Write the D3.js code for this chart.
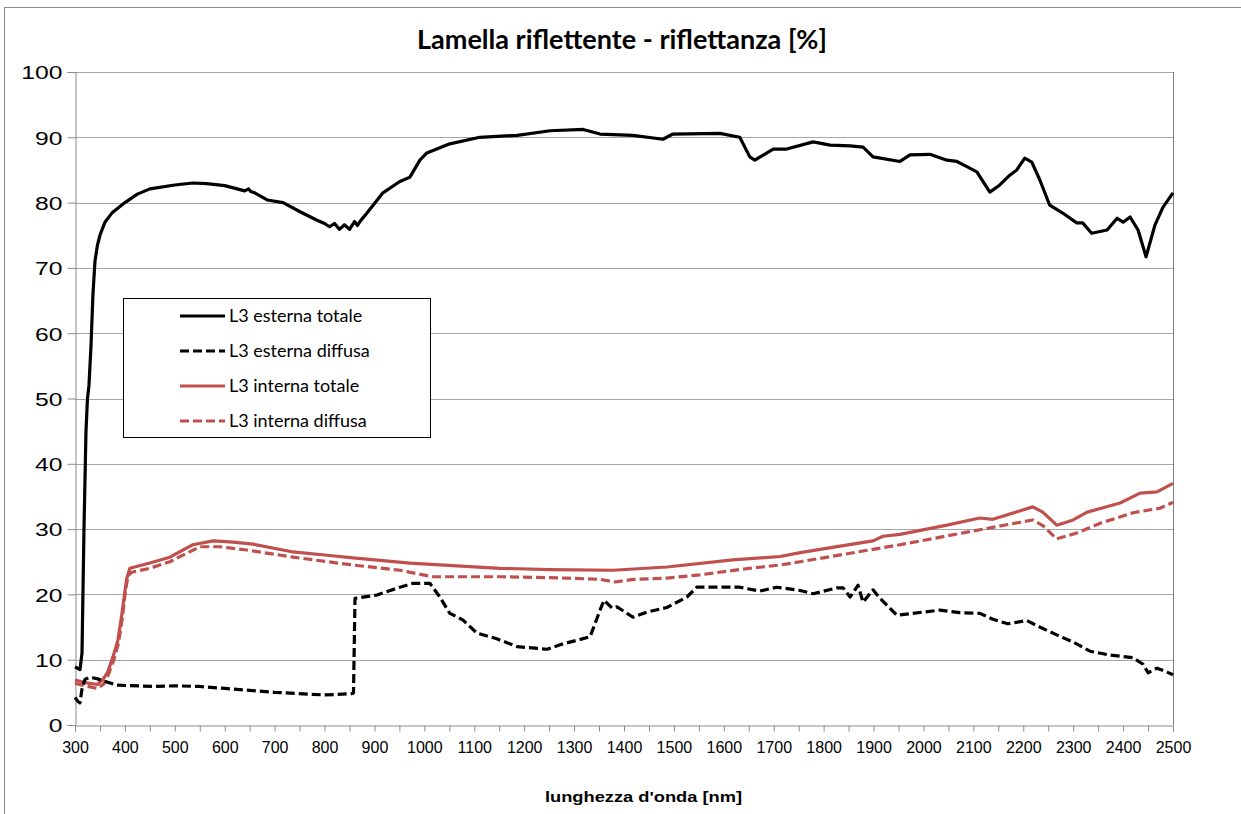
<!DOCTYPE html>
<html>
<head>
<meta charset="utf-8">
<script src="https://cdn.jsdelivr.net/npm/d3@7"></script>
<style>
  body { margin: 0; background: #fff; }
  svg { display: block; }
</style>
</head>
<body>
<div id="chart"></div>
<script>
// wavelengths [nm] and reflectance [%]
var estTotNm = [300,310,314,318,322,325,328,332,336,340,345,350,360,375,400,425,450,500,536,564,600,640,648,652,660,685,717,751,785,800,810,820,830,840,850,860,866,872,885,917,950,971,991,1005,1051,1111,1186,1252,1318,1352,1418,1478,1498,1592,1632,1652,1662,1699,1726,1779,1813,1853,1879,1899,1953,1973,2013,2047,2067,2087,2107,2133,2153,2173,2187,2203,2217,2233,2253,2279,2307,2319,2337,2368,2388,2400,2414,2430,2446,2464,2480,2500];
var estTotVal = [8.9,8.5,11,30,45,50,52,58,66,71,73.5,75,77,78.5,80,81.3,82.1,82.7,83.0,82.9,82.6,81.8,82.1,81.7,81.5,80.4,80.0,78.6,77.3,76.8,76.3,76.8,75.9,76.6,75.9,77.1,76.5,77.2,78.4,81.5,83.2,83.9,86.5,87.6,89.0,90.0,90.3,91.0,91.2,90.5,90.3,89.7,90.5,90.6,90.0,87.0,86.5,88.2,88.2,89.3,88.8,88.7,88.5,87.0,86.3,87.3,87.4,86.5,86.3,85.5,84.7,81.6,82.7,84.2,85.0,86.8,86.2,83.5,79.6,78.4,76.9,76.9,75.3,75.8,77.6,77.0,77.8,75.8,71.7,76.6,79.3,81.5];

var estDifNm = [300,306,310,314,320,330,344,364,384,456,500,550,600,700,800,855,858,861,905,951,977,1011,1031,1051,1077,1105,1145,1186,1246,1272,1332,1352,1360,1376,1386,1418,1446,1486,1526,1546,1632,1672,1706,1753,1779,1827,1839,1853,1869,1879,1899,1913,1947,1979,2033,2073,2113,2139,2169,2207,2233,2267,2300,2334,2374,2420,2440,2450,2468,2488,2500];
var estDifVal = [4.2,3.6,3.4,5.5,7.0,7.3,7.1,6.6,6.1,5.9,6.0,5.9,5.6,5.0,4.6,4.8,4.9,19.4,19.9,21.1,21.7,21.7,19.6,17.1,16.1,14.1,13.2,12.0,11.6,12.3,13.5,17.6,19.1,17.9,18.1,16.5,17.3,18.0,19.6,21.1,21.1,20.5,21.1,20.6,20.1,21.0,21.0,19.6,21.4,18.8,20.7,19.4,16.8,17.1,17.6,17.2,17.1,16.2,15.5,16.0,15.0,13.8,12.7,11.3,10.7,10.3,9.3,8.0,8.7,8.1,7.7];

var intTotNm = [300,320,345,356,365,376,386,394,400,404,410,425,450,490,536,577,617,657,737,805,857,971,1152,1252,1378,1486,1618,1713,1753,1833,1899,1919,1953,2047,2113,2139,2219,2239,2267,2300,2328,2394,2434,2468,2500];
var intTotVal = [6.9,6.5,6.2,7.0,8.0,10.4,13.0,17.0,20.5,22.5,24.0,24.3,24.8,25.7,27.6,28.2,28.0,27.7,26.5,26.0,25.6,24.8,24.0,23.8,23.7,24.2,25.3,25.8,26.4,27.4,28.2,28.9,29.2,30.6,31.7,31.5,33.4,32.6,30.6,31.4,32.6,34.0,35.5,35.7,37.0];

var intDifNm = [300,320,345,358,366,377,387,395,401,406,414,450,490,550,590,644,737,857,951,1017,1152,1286,1352,1382,1418,1486,1552,1652,1713,1753,1899,1953,2113,2219,2240,2267,2307,2354,2420,2474,2500];
var intDifVal = [6.4,6.0,5.6,6.3,7.5,9.8,12.5,16.5,20.5,22.8,23.4,24.0,25.0,27.3,27.3,26.8,25.7,24.5,23.7,22.7,22.7,22.5,22.3,21.9,22.3,22.5,23.0,24.0,24.5,25.0,26.9,27.6,29.9,31.4,30.5,28.5,29.4,30.9,32.5,33.2,34.1];

var seriesNames = ["L3 esterna totale", "L3 esterna diffusa", "L3 interna totale", "L3 interna diffusa"];
var seriesColors = ["#000000", "#000000", "#c0504d", "#c0504d"];
var seriesDash = [null, "9,4", null, "9,4"];

var xTicks = d3.range(300, 2501, 100);
var xMinorTicks = d3.range(300, 2501, 50);
var yTicks = d3.range(0, 101, 10);

var svgWidth = 1241, svgHeight = 814;
var margin = { top: 72, left: 75 };
var width = 1098, height = 653;

var svg = d3.select("#chart").append("svg")
  .attr("width", svgWidth)
  .attr("height", svgHeight);

// outer chart frame
svg.append("rect")
  .attr("x", 4.5).attr("y", 7.5)
  .attr("width", 1400).attr("height", 1000)
  .attr("fill", "none")
  .attr("stroke", "#8c8c8c");

var chartGroup = svg.append("g")
  .attr("transform", `translate(${margin.left}, ${margin.top})`);

var xScale = d3.scaleLinear().domain([300, 2500]).range([0, width]);
var yScale = d3.scaleLinear().domain([0, 100]).range([height, 0]);

// gridlines
chartGroup.append("g")
  .selectAll("line")
  .data(yTicks.filter(d => d > 0))
  .enter()
  .append("line")
  .attr("x1", 0).attr("x2", width)
  .attr("y1", d => Math.round(yScale(d)) + 0.5)
  .attr("y2", d => Math.round(yScale(d)) + 0.5)
  .attr("stroke", "#a6a6a6")
  .attr("stroke-width", 1);

// right border of plot area
chartGroup.append("line")
  .attr("x1", width + 0.5).attr("x2", width + 0.5)
  .attr("y1", 0).attr("y2", height)
  .attr("stroke", "#7f7f7f");

// y axis
var yAxis = d3.axisLeft(yScale).tickValues(yTicks).tickSize(8).tickPadding(0);
var yG = chartGroup.append("g").attr("transform", "translate(0.5,0)").call(yAxis);
yG.select(".domain").attr("stroke", "#8c8c8c");
yG.selectAll(".tick line").attr("stroke", "#8c8c8c");
yG.selectAll(".tick text")
  .attr("x", 0)
  .attr("dy", "0.36em")
  .attr("transform", "translate(-13,0) scale(1.3,1)")
  .attr("font-family", "Liberation Sans, Arial, sans-serif")
  .attr("font-size", "19px")
  .attr("fill", "#000");

// x axis (minor ticks every 50 nm)
var xMinor = d3.axisBottom(xScale).tickValues(xMinorTicks).tickSize(6).tickFormat("");
var xmG = chartGroup.append("g").attr("transform", `translate(0, ${height + 0.5})`).call(xMinor);
xmG.select(".domain").attr("stroke", "#8c8c8c");
xmG.selectAll(".tick line").attr("stroke", "#8c8c8c");

var xAxis = d3.axisBottom(xScale).tickValues(xTicks).tickSize(0).tickPadding(17).tickFormat(d3.format("d"));
var xG = chartGroup.append("g").attr("transform", `translate(0, ${height})`).call(xAxis);
xG.select(".domain").remove();
xG.selectAll(".tick text")
  .attr("font-family", "Liberation Sans, Arial, sans-serif")
  .attr("font-size", "16px")
  .attr("fill", "#000");

// lines
var allSeries = [
  d3.zip(estTotNm, estTotVal),
  d3.zip(estDifNm, estDifVal),
  d3.zip(intTotNm, intTotVal),
  d3.zip(intDifNm, intDifVal)
];

var line = d3.line()
  .x(d => xScale(d[0]))
  .y(d => yScale(d[1]));

// draw red first, black on top where they overlap
[2, 3, 1, 0].forEach(function(i) {
  chartGroup.append("path")
    .datum(allSeries[i])
    .attr("d", line)
    .attr("fill", "none")
    .attr("stroke", seriesColors[i])
    .attr("stroke-width", 3.2)
    .attr("stroke-linejoin", "round")
    .attr("stroke-dasharray", seriesDash[i]);
});

// title
svg.append("text")
  .attr("x", 417).attr("y", 49)
  .attr("textLength", 410)
  .attr("lengthAdjust", "spacingAndGlyphs")
  .attr("font-family", "Lato, 'Open Sans', sans-serif")
  .attr("font-weight", "bold")
  .attr("font-size", "26px")
  .text("Lamella riflettente - riflettanza [%]");

// x axis title
svg.append("text")
  .attr("x", 545).attr("y", 802)
  .attr("textLength", 197)
  .attr("lengthAdjust", "spacingAndGlyphs")
  .attr("font-family", "Liberation Sans, Arial, sans-serif")
  .attr("font-weight", "bold")
  .attr("font-size", "15px")
  .text("lunghezza d'onda [nm]");

// legend
var legend = svg.append("g");
legend.append("rect")
  .attr("x", 123.5).attr("y", 298.5)
  .attr("width", 307).attr("height", 139)
  .attr("fill", "#fff")
  .attr("stroke", "#000");

var legendY = [316, 351, 386, 421];
seriesNames.forEach(function(name, i) {
  legend.append("line")
    .attr("x1", 180).attr("x2", 225)
    .attr("y1", legendY[i]).attr("y2", legendY[i])
    .attr("stroke", seriesColors[i])
    .attr("stroke-width", 3)
    .attr("stroke-dasharray", seriesDash[i]);
  legend.append("text")
    .attr("x", 229).attr("y", legendY[i] + 6)
    .attr("font-family", "Lato, 'Open Sans', sans-serif")
    .attr("font-size", "18px")
    .text(name);
});
</script>
</body>
</html>
